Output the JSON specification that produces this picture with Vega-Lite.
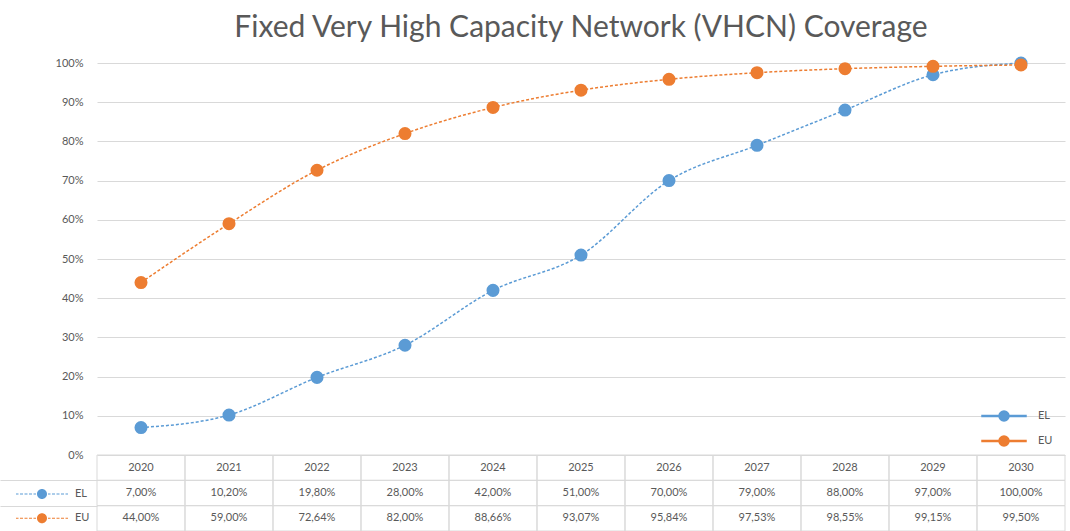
{
  "$schema": "https://vega.github.io/schema/vega-lite/v6.json",
  "width": 968,
  "height": 468,
  "autosize": {"type": "none"},
  "padding": {"left": 97, "top": 63, "right": 5, "bottom": 0},
  "background": "white",
  "config": {
    "locale": {"number": {"decimal": ",", "thousands": ".", "grouping": [3], "currency": ["", " €"]}},
    "view": {"stroke": null},
    "font": "Lato"
  },
  "title": {
    "text": "Fixed Very High Capacity Network (VHCN) Coverage",
    "fontSize": 30,
    "font": "Lato",
    "fontWeight": "normal",
    "color": "#595959",
    "anchor": "middle",
    "frame": "group",
    "baseline": "alphabetic",
    "offset": 26,
    "dy": 37
  },
  "data": {
    "values": [
      {"year": "2020", "series": "EL", "value": 0.07},
      {"year": "2021", "series": "EL", "value": 0.102},
      {"year": "2022", "series": "EL", "value": 0.198},
      {"year": "2023", "series": "EL", "value": 0.28},
      {"year": "2024", "series": "EL", "value": 0.42},
      {"year": "2025", "series": "EL", "value": 0.51},
      {"year": "2026", "series": "EL", "value": 0.70},
      {"year": "2027", "series": "EL", "value": 0.79},
      {"year": "2028", "series": "EL", "value": 0.88},
      {"year": "2029", "series": "EL", "value": 0.97},
      {"year": "2030", "series": "EL", "value": 1.00},
      {"year": "2020", "series": "EU", "value": 0.44},
      {"year": "2021", "series": "EU", "value": 0.59},
      {"year": "2022", "series": "EU", "value": 0.7264},
      {"year": "2023", "series": "EU", "value": 0.82},
      {"year": "2024", "series": "EU", "value": 0.8866},
      {"year": "2025", "series": "EU", "value": 0.9307},
      {"year": "2026", "series": "EU", "value": 0.9584},
      {"year": "2027", "series": "EU", "value": 0.9753},
      {"year": "2028", "series": "EU", "value": 0.9855},
      {"year": "2029", "series": "EU", "value": 0.9915},
      {"year": "2030", "series": "EU", "value": 0.995}
    ]
  },
  "encoding": {
    "x": {"field": "year", "type": "ordinal", "scale": {"paddingInner": 0, "paddingOuter": 0}, "axis": null}
  },
  "layer": [
    {
      "encoding": {
        "y": {
          "field": "value", "type": "quantitative",
          "scale": {"domain": [0, 1], "range": [392, 0]},
          "axis": {
            "orient": "left",
            "values": [0, 0.1, 0.2, 0.3, 0.4, 0.5, 0.6, 0.7, 0.8, 0.9, 1],
            "format": ".0%", "grid": true, "gridColor": "#d9d9d9", "domain": false, "ticks": false,
            "labelColor": "#595959", "labelFontSize": 11, "labelFont": "Lato", "labelPadding": 14, "title": null
          }
        },
        "color": {
          "field": "series", "type": "nominal",
          "scale": {"domain": ["EL", "EU"], "range": ["#5b9bd5", "#ed7d31"]},
          "legend": {
            "title": null, "orient": "none", "legendX": 896, "legendY": 342,
            "symbolType": "M0.5,0A0.5,0.5 0 1,1 -0.5,0A0.5,0.5 0 1,1 0.5,0Z M-2.2,-0.05H-1.95V0.05H-2.2Z M-1.8,-0.05H-1.5V0.05H-1.8Z M-1.35,-0.05H-1.05V0.05H-1.35Z M-0.9,-0.05H-0.6V0.05H-0.9Z M0.6,-0.05H0.9V0.05H0.6Z M1.05,-0.05H1.35V0.05H1.05Z M1.5,-0.05H1.8V0.05H1.5Z M1.95,-0.05H2.2V0.05H1.95Z",
            "symbolSize": 400, "labelOffset": 23, "rowPadding": 6, "padding": 0,
            "labelFontSize": 11, "labelColor": "#595959", "labelFont": "Lato",
            "encode": {"symbols": {"update": {
              "fill": {"signal": "datum.value === 'EL' ? '#5b9bd5' : '#ed7d31'"},
              "stroke": {"value": "transparent"}, "opacity": {"value": 1}, "size": {"value": 400}
            }}}
          }
        }
      },
      "layer": [
        {"mark": {"type": "line", "interpolate": "monotone", "strokeWidth": 1.5, "strokeDash": [3, 2]}},
        {"mark": {"type": "point", "filled": true, "size": 170, "opacity": 1}}
      ]
    },
    {
      "encoding": {
        "y": {
          "field": "series", "type": "nominal",
          "scale": {"domain": ["Year", "EL", "EU"], "range": [392, 468], "paddingInner": 0, "paddingOuter": 0},
          "axis": {
            "orient": "left", "values": ["EL", "EU"], "tickBand": "extent", "tickSize": 97,
            "tickColor": "#d9d9d9", "labels": false, "domain": false, "grid": false, "title": null
          }
        }
      },
      "layer": [
        {"mark": {"type": "rect", "fill": "transparent", "stroke": "#d9d9d9", "strokeWidth": 1}},
        {
          "transform": [{"filter": "datum.series === 'EL'"}],
          "mark": {"type": "rect", "fill": "transparent", "stroke": "#d9d9d9", "strokeWidth": 1},
          "encoding": {"y": {"datum": "Year", "type": "nominal"}}
        },
        {
          "transform": [{"filter": "datum.series === 'EL'"}],
          "mark": {"type": "text", "fontSize": 11, "color": "#595959", "font": "Lato"},
          "encoding": {"y": {"datum": "Year", "type": "nominal"}, "text": {"field": "year", "type": "nominal"}}
        },
        {
          "mark": {"type": "text", "fontSize": 11, "color": "#595959", "font": "Lato"},
          "encoding": {"text": {"field": "value", "type": "quantitative", "format": ".2%"}}
        },
        {
          "mark": {"type": "point", "filled": true, "opacity": 0},
          "encoding": {
            "color": {
              "field": "series", "type": "nominal",
              "scale": {"domain": ["EL", "EU"], "range": ["#5b9bd5", "#ed7d31"]},
              "legend": {
                "title": null, "orient": "none", "legendX": -66, "legendY": 420,
                "symbolType": "M0.5,0A0.5,0.5 0 1,1 -0.5,0A0.5,0.5 0 1,1 0.5,0Z M-2.6,-0.05H-2.35V0.05H-2.6Z M-2.2,-0.05H-1.9V0.05H-2.2Z M-1.75,-0.05H-1.45V0.05H-1.75Z M-1.3,-0.05H-1.0V0.05H-1.3Z M-0.85,-0.05H-0.6V0.05H-0.85Z M0.6,-0.05H0.85V0.05H0.6Z M1.0,-0.05H1.3V0.05H1.0Z M1.45,-0.05H1.75V0.05H1.45Z M1.9,-0.05H2.2V0.05H1.9Z M2.35,-0.05H2.6V0.05H2.35Z",
                "symbolSize": 400, "labelOffset": 22, "rowPadding": 5.33, "padding": 0,
                "labelFontSize": 11, "labelColor": "#595959", "labelFont": "Lato",
                "encode": {"symbols": {"update": {
                  "fill": {"signal": "datum.value === 'EL' ? '#5b9bd5' : '#ed7d31'"},
                  "stroke": {"value": "transparent"}, "opacity": {"value": 1}, "size": {"value": 400}
                }}}
              }
            }
          }
        }
      ]
    }
  ],
  "resolve": {"scale": {"y": "independent", "color": "independent"}, "legend": {"color": "independent"}}
}
